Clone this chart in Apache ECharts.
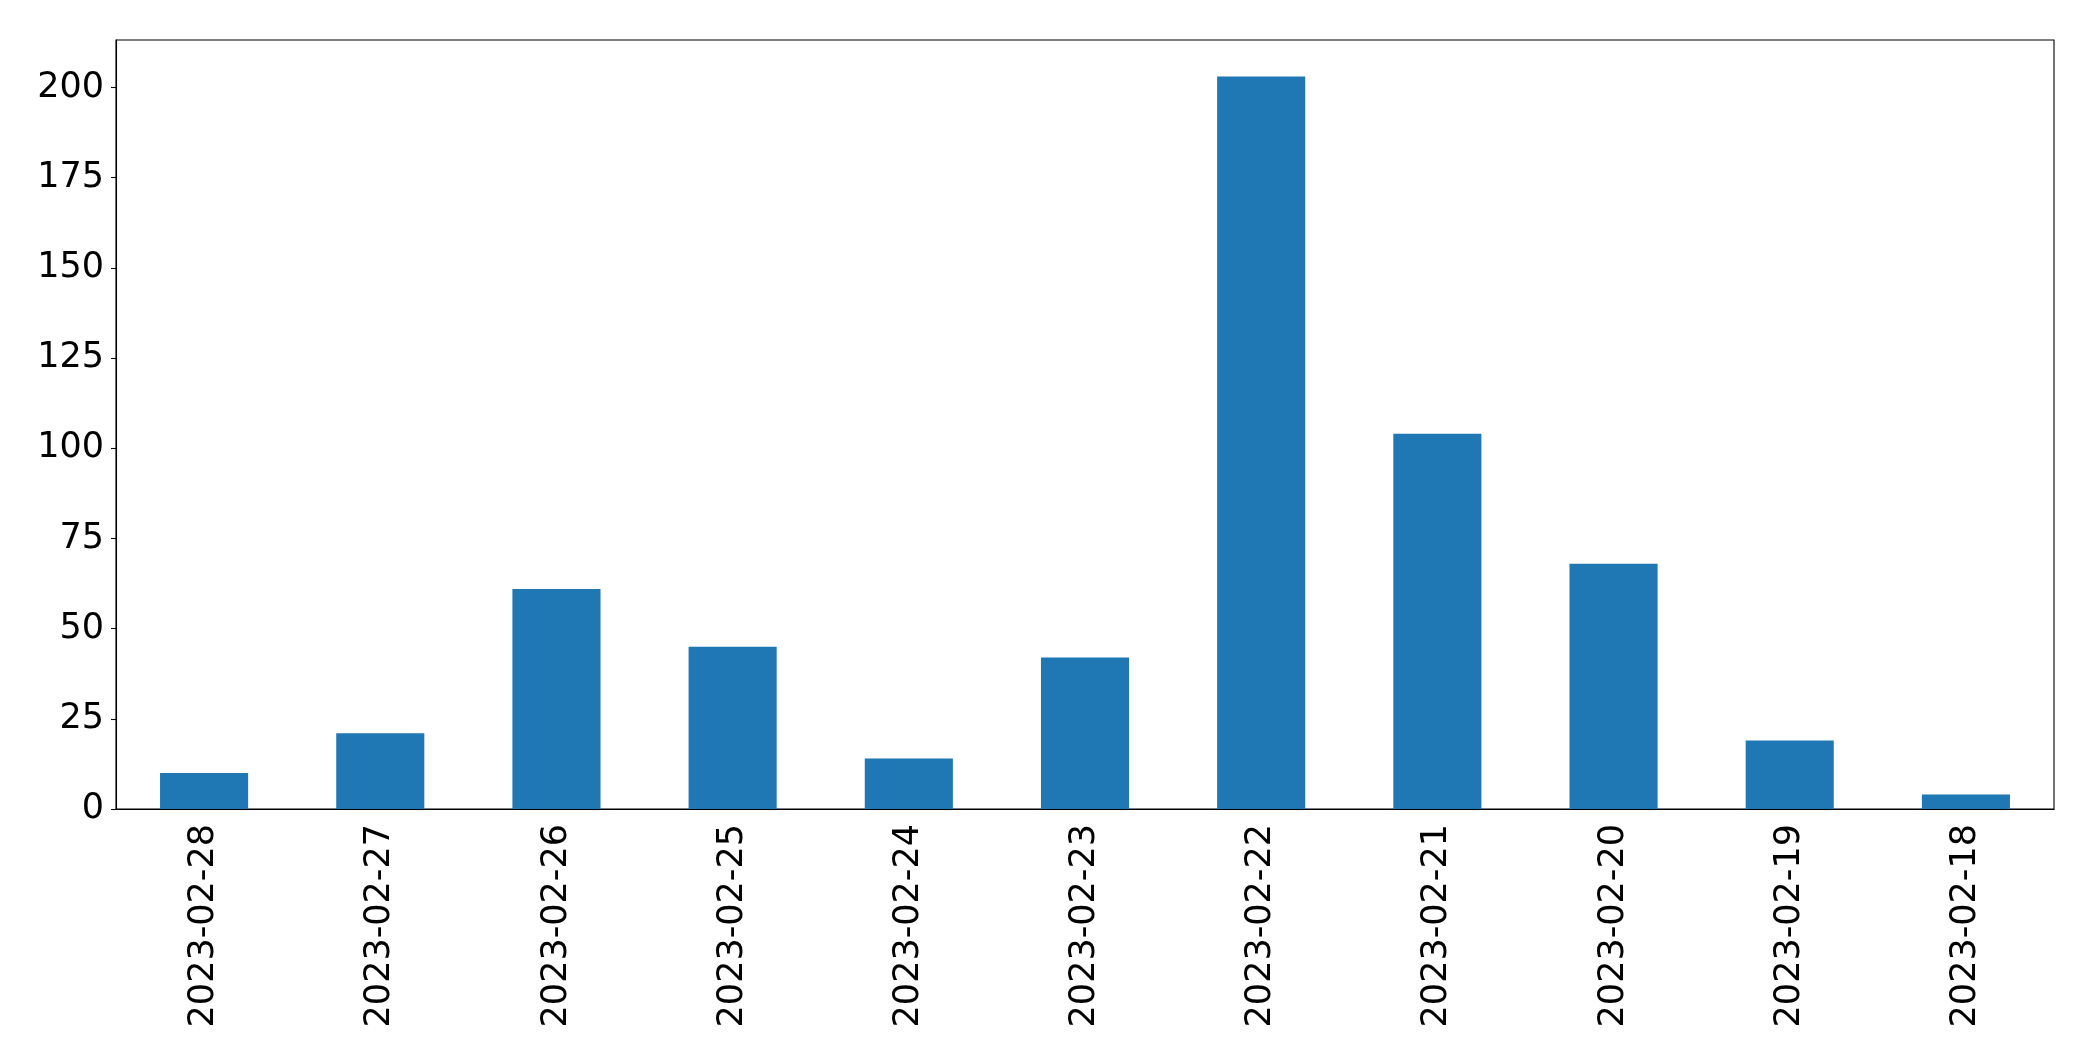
<!DOCTYPE html>
<html>
<head>
<meta charset="utf-8">
<script src="https://cdn.jsdelivr.net/npm/echarts@6/dist/echarts.min.js"></script>
<style>
html,body{margin:0;padding:0;background:#fff;}
#chart{width:2093px;height:1061px;}
</style>
</head>
<body>
<div id="chart"></div>
<script>
const categories = ['2023-02-28','2023-02-27','2023-02-26','2023-02-25','2023-02-24','2023-02-23','2023-02-22','2023-02-21','2023-02-20','2023-02-19','2023-02-18'];
const counts = [10, 21, 61, 45, 14, 42, 203, 104, 68, 19, 4];
const yTicks = [0, 25, 50, 75, 100, 125, 150, 175, 200];

const yMax = Math.max(...counts) * 1.05;
const font = 'DejaVu Sans';

const chart = echarts.init(document.getElementById('chart'), null, {renderer: 'canvas'});
chart.setOption({
  animation: false,
  backgroundColor: '#ffffff',
  grid: {
    left: 116, right: 39, top: 40, bottom: 252,
    show: true, borderColor: '#000', borderWidth: 1.1, backgroundColor: 'transparent'
  },
  xAxis: {
    type: 'category',
    data: categories,
    boundaryGap: true,
    axisLine: {lineStyle: {color: '#000', width: 1.1}},
    axisTick: {alignWithLabel: true, length: 5, lineStyle: {color: '#000', width: 1.1}},
    axisLabel: {rotate: 90, margin: 15, fontSize: 35, color: '#000', fontFamily: font, interval: 0},
    splitLine: {show: false}
  },
  yAxis: {
    type: 'value',
    min: 0,
    max: yMax,
    interval: 25,
    axisLine: {show: true, lineStyle: {color: '#000', width: 1.1}},
    axisTick: {show: true, length: 5, lineStyle: {color: '#000', width: 1.1}, customValues: yTicks},
    axisLabel: {margin: 12, fontSize: 35, color: '#000', fontFamily: font, customValues: yTicks},
    splitLine: {show: false}
  },
  series: [{
    type: 'bar',
    data: counts,
    barWidth: '50%',
    itemStyle: {color: '#1f77b4'}
  }]
});
</script>
</body>
</html>
